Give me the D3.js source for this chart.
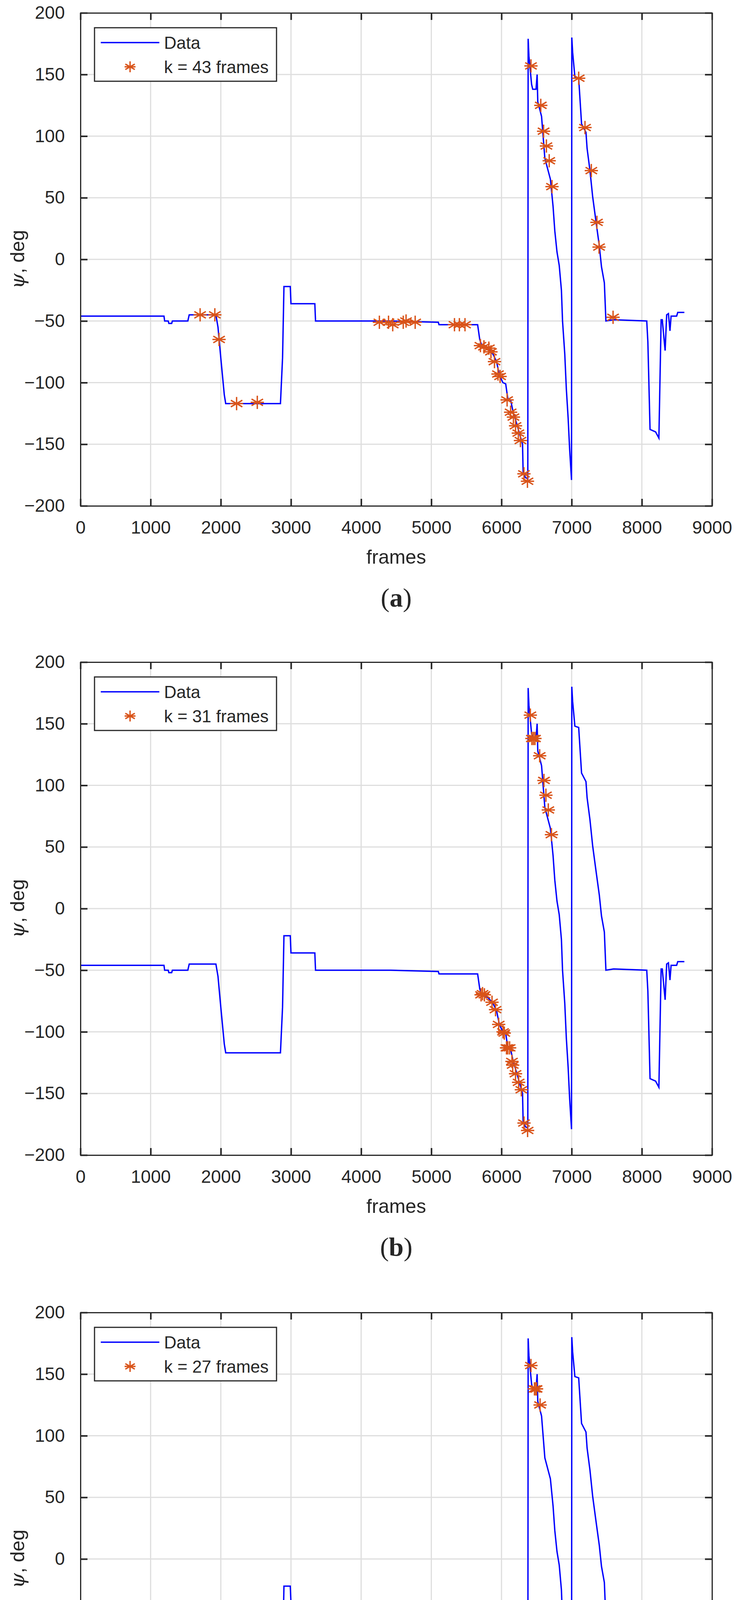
<!DOCTYPE html>
<html>
<head>
<meta charset="utf-8">
<script src="https://cdn.jsdelivr.net/npm/d3@7"></script>
<style>
  html, body { margin: 0; padding: 0; background: #fff; overflow: hidden; }
  svg { display: block; }
  text { font-family: "Liberation Sans", Arial, sans-serif; fill: #262626; }
</style>
</head>
<body>
<div id="chart"></div>
<script>
// heading trace (frame, deg)
var traceFrames = [0, 1190, 1200, 1250, 1260, 1300, 1310, 1530, 1550, 1930, 1960, 2000, 2050, 2070, 2850, 2880, 2900, 2990, 3000, 3340, 3350, 4420, 5100, 5110, 5660, 5690, 5720, 5780, 5820, 5880, 5930, 5970, 6020, 6060, 6090, 6130, 6170, 6200, 6250, 6300, 6308, 6340, 6375, 6380, 6391, 6429, 6445, 6492, 6508, 6517, 6571, 6618, 6697, 6735, 6760, 6791, 6823, 6854, 6870, 6902, 6924, 6950, 6972, 6998, 7002, 7014, 7046, 7100, 7141, 7204, 7220, 7261, 7299, 7346, 7394, 7425, 7466, 7488, 7598, 8070, 8086, 8117, 8196, 8243, 8275, 8291, 8332, 8354, 8379, 8401, 8417, 8496, 8512, 8606];
var traceDeg = [-46, -46, -50, -50, -52, -52, -50, -50, -45, -45, -55, -80, -110, -117, -117, -80, -22, -22, -36, -36, -50, -50, -51, -53, -53, -65, -70, -71, -73, -77, -83, -94, -100, -101, -113, -114, -125, -130, -140, -150, -172, -177, -178, 179, 165, 142, 138, 138, 150, 128, 116, 82, 65, 43, 23, 6, -5, -25, -50, -77, -105, -129, -155, -179, 180, 168, 148, 147, 110, 103, 90, 72, 51, 31, 11, -6, -19, -50, -49, -50, -67, -138, -140, -145, -49, -49, -74, -45, -44, -58, -46, -46, -43, -43];

// selected frames per panel
var starsA = [[1705,-45],[1915,-45],[1975,-65],[2225,-117],[2520,-116],[4260,-51],[4390,-51],[4450,-53],[4600,-51],[4640,-50],[4770,-51],[5330,-53],[5400,-53],[5480,-53],[5700,-70],[5750,-71],[5820,-72],[5850,-75],[5900,-83],[5950,-93],[5980,-95],[6080,-114],[6130,-124],[6170,-128],[6200,-135],[6240,-141],[6270,-147],[6320,-174],[6370,-180],[6420,157],[6560,125],[6600,104],[6640,92],[6680,80],[6720,59],[7100,147],[7190,107],[7280,72],[7360,30],[7390,10],[7590,-47]];
var starsB = [[6411,157],[6433,138],[6455,138],[6477,138],[6544,124],[6605,104],[6633,92],[6667,80],[6712,60],[5709,-70],[5730,-69],[5757,-70],[5865,-76],[5915,-82],[5960,-94],[6022,-100],[6040,-101],[6071,-113],[6090,-113],[6116,-113],[6149,-124],[6160,-127],[6200,-134],[6244,-141],[6283,-147],[6321,-174],[6372,-180]];
var starsC = [[6420,157],[6470,138],[6490,138],[6500,138],[6550,125],[5720,-70],[5740,-70],[5760,-70],[5860,-75],[5920,-82],[5960,-93],[6010,-99],[6080,-113],[6110,-113],[6140,-123],[6170,-128],[6210,-135],[6260,-141],[6290,-146],[6330,-174],[6370,-180]];

var panels = [
  {top: 33, stars: starsA, label: "k = 43 frames", tag: "a"},
  {top: 1695, stars: starsB, label: "k = 31 frames", tag: "b"},
  {top: 3360, stars: starsC, label: "k = 27 frames", tag: "c"}
];
var xTicks = d3.range(0, 9001, 1000);
var yTicks = d3.range(-200, 201, 50);

var left = 206, right = 1823, plotH = 1262;
var axisColor = "#262626", lineColor = "#0000ff", starColor = "#d95319";

var svg = d3.select("#chart").append("svg")
  .attr("width", 1887).attr("height", 4913)
  .attr("viewBox", "0 0 1887 4913");

var x = d3.scaleLinear().domain([0, 9000]).range([left, right]);
var trace = traceFrames.map(function(f, i) { return [f, traceDeg[i]]; });

function star(g, cx, cy, r) {
  var d = "";
  [0, 60, 120].forEach(function(a) {
    var t = a * Math.PI / 180;
    d += "M" + (cx - r * Math.sin(t)) + "," + (cy - r * Math.cos(t)) +
         "L" + (cx + r * Math.sin(t)) + "," + (cy + r * Math.cos(t));
  });
  d += "M" + (cx - r) + "," + cy + "L" + (cx + r) + "," + cy;
  g.append("path").attr("d", d).attr("stroke", starColor)
    .attr("stroke-width", 3.5).attr("fill", "none");
}

panels.forEach(function(p) {
  var y = d3.scaleLinear().domain([-200, 200]).range([p.top + plotH, p.top]);
  var g = svg.append("g");

  // grid
  g.selectAll(null).data(xTicks.slice(1, -1)).enter().append("line")
    .attr("x1", x).attr("x2", x).attr("y1", p.top).attr("y2", p.top + plotH)
    .attr("stroke", "#dedede").attr("stroke-width", 3);
  g.selectAll(null).data(yTicks.slice(1, -1)).enter().append("line")
    .attr("x1", left).attr("x2", right).attr("y1", y).attr("y2", y)
    .attr("stroke", "#dedede").attr("stroke-width", 3);

  // data line
  var line = d3.line().x(function(d) { return x(d[0]); }).y(function(d) { return y(d[1]); });
  g.append("path").datum(trace).attr("d", line)
    .attr("fill", "none").attr("stroke", lineColor).attr("stroke-width", 3.5);

  p.stars.forEach(function(s) { star(g, x(s[0]), y(s[1]), 17); });

  // axes with inward ticks on all sides
  g.append("g").attr("transform", "translate(0," + (p.top + plotH) + ")")
    .call(d3.axisBottom(x).tickValues(xTicks).tickSize(-18).tickPadding(38).tickFormat(d3.format("d")));
  g.append("g").attr("transform", "translate(0," + p.top + ")")
    .call(d3.axisTop(x).tickValues(xTicks).tickSize(-18).tickFormat(""));
  g.append("g").attr("transform", "translate(" + left + ",0)")
    .call(d3.axisLeft(y).tickValues(yTicks).tickSize(-18).tickPadding(40).tickFormat(d3.format("d")));
  g.append("g").attr("transform", "translate(" + right + ",0)")
    .call(d3.axisRight(y).tickValues(yTicks).tickSize(-18).tickFormat(""));
  g.selectAll(".domain").attr("stroke", axisColor).attr("stroke-width", 3);
  g.selectAll(".tick line").attr("stroke", axisColor).attr("stroke-width", 4);
  g.selectAll(".tick text").style("font-size", "46px").attr("fill", axisColor)
    .style("font-family", "Liberation Sans, Arial, sans-serif");

  // legend
  var lx = left + 36, ly = p.top + 38;
  g.append("rect").attr("x", lx).attr("y", ly).attr("width", 466).attr("height", 137)
    .attr("fill", "#fff").attr("stroke", axisColor).attr("stroke-width", 3);
  g.append("line").attr("x1", lx + 16).attr("x2", lx + 166)
    .attr("y1", ly + 38).attr("y2", ly + 38).attr("stroke", lineColor).attr("stroke-width", 3.5);
  g.append("text").attr("x", lx + 178).attr("y", ly + 54).style("font-size", "44px").attr("fill", "#000").text("Data");
  star(g, lx + 91, ly + 100, 14);
  g.append("text").attr("x", lx + 178).attr("y", ly + 116).style("font-size", "44px").attr("fill", "#000").text(p.label);

  // axis titles
  g.append("text").attr("x", (left + right) / 2).attr("y", p.top + plotH + 148)
    .attr("text-anchor", "middle").style("font-size", "50px").text("frames");
  g.append("text").attr("transform", "translate(62," + (p.top + plotH / 2) + ") rotate(-90)")
    .attr("text-anchor", "middle").style("font-size", "50px")
    .html('<tspan style="font-family:DejaVu Serif;font-style:italic">ψ</tspan>, deg');

  // sub caption
  var cap = g.append("text").attr("x", (left + right) / 2).attr("y", p.top + plotH + 258)
    .attr("text-anchor", "middle").style("font-size", "68px")
    .style("font-family", "Liberation Serif, serif").attr("fill", "#000");
  cap.append("tspan").text("(");
  cap.append("tspan").attr("font-weight", "bold").text(p.tag);
  cap.append("tspan").text(")");
});
</script>
</body>
</html>
